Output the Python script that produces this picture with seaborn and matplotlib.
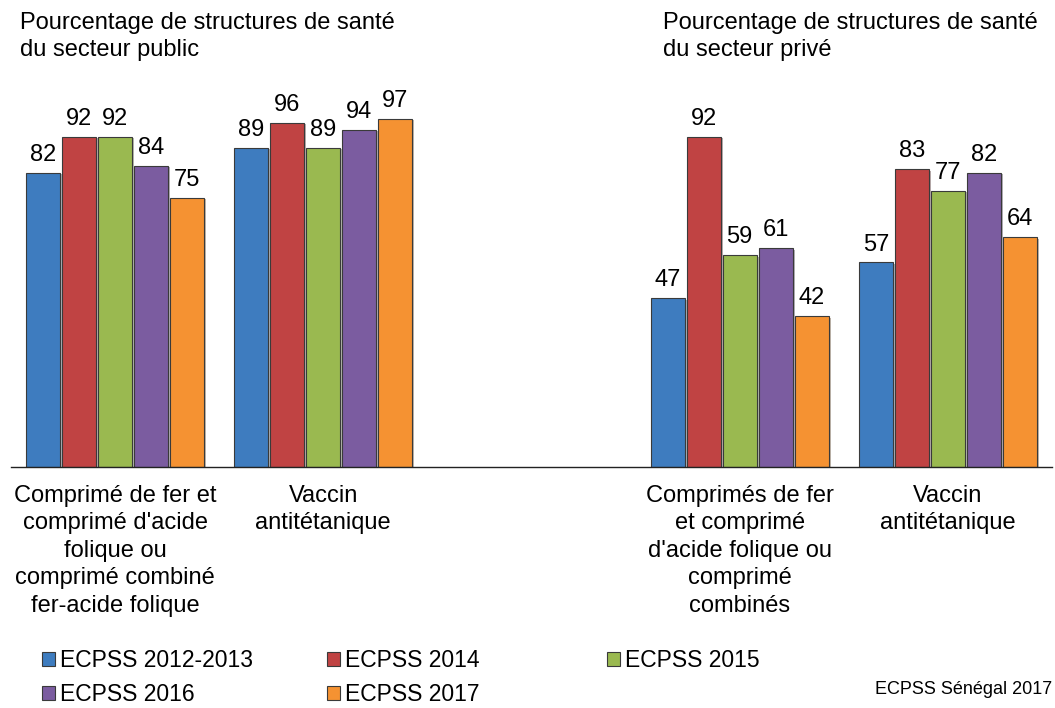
import seaborn as sns
import matplotlib.pyplot as plt
import matplotlib.patheffects as pe
import pandas as pd
from matplotlib.patches import Patch

# categories (empty slot separates public / private)
categories = ["pub_fer", "pub_vat", "", "priv_fer", "priv_vat"]
cat_labels = [
    "Comprimé de fer et\ncomprimé d'acide\nfolique ou\ncomprimé combiné\nfer-acide folique",
    "Vaccin\nantitétanique",
    "",
    "Comprimés de fer\net comprimé\nd'acide folique ou\ncomprimé\ncombinés",
    "Vaccin\nantitétanique",
]
series = ["ECPSS 2012-2013", "ECPSS 2014", "ECPSS 2015", "ECPSS 2016", "ECPSS 2017"]
colors = ["#3E7CBF", "#C04343", "#9AB950", "#7B5CA0", "#F59232"]

pub_fer = [82, 92, 92, 84, 75]
pub_vat = [89, 96, 89, 94, 97]
priv_fer = [47, 92, 59, 61, 42]
priv_vat = [57, 83, 77, 82, 64]

rows = []
for cat, vals in zip(["pub_fer", "pub_vat", "priv_fer", "priv_vat"],
                     [pub_fer, pub_vat, priv_fer, priv_vat]):
    for s, v in zip(series, vals):
        rows.append({"cat": cat, "serie": s, "val": v})
df = pd.DataFrame(rows)

sns.set_style("white")
plt.rcParams["font.family"] = ["Liberation Sans", "DejaVu Sans"]
plt.rcParams["text.color"] = "black"
plt.rcParams["xtick.color"] = "black"

FS = 17

fig = plt.figure(figsize=(10.55, 7.08), dpi=100)
ax = fig.add_axes([0.0104, 0.3404, 0.9867, 0.5068])

sns.barplot(data=df, x="cat", y="val", hue="serie", order=categories,
            hue_order=series, palette=colors, saturation=1, width=0.865, gap=0.06,
            edgecolor="#3a3a3a", linewidth=0.8, legend=False, ax=ax)

# light drop shadow like the original
for p in ax.patches:
    p.set_path_effects([pe.SimplePatchShadow(offset=(1.5, -1), alpha=0.35), pe.Normal()])

for c in ax.containers:
    ax.bar_label(c, fmt="%d", padding=5, fontsize=FS, clip_on=False)

ax.set_ylim(0, 100)
ax.set_xlim(-0.5, 4.5)
ax.set_xticks(range(5))
ax.set_xticklabels(cat_labels, fontsize=FS, linespacing=1.32)
ax.tick_params(axis="x", length=0, pad=13)
ax.set_yticks([])
ax.set_xlabel("")
ax.set_ylabel("")
for side in ["top", "left", "right"]:
    ax.spines[side].set_visible(False)
ax.spines["bottom"].set_color("#222222")
ax.spines["bottom"].set_linewidth(1.0)

fig.text(20 / 1055, 1 - 12 / 708, "Pourcentage de structures de santé\ndu secteur public",
         fontsize=FS, va="top", ha="left", linespacing=1.3)
fig.text(663 / 1055, 1 - 12 / 708, "Pourcentage de structures de santé\ndu secteur privé",
         fontsize=FS, va="top", ha="left", linespacing=1.3)

# legend: three columns placed by hand
handles = [Patch(facecolor=c, edgecolor="#3a3a3a", linewidth=0.8) for c in colors]
columns = [([0, 3], 42), ([1, 4], 327), ([2], 607)]
for idx, xpx in columns:
    fig.legend([handles[i] for i in idx], [series[i] for i in idx],
               loc="upper left", bbox_to_anchor=(xpx / 1055, 1 - 649 / 708),
               frameon=False, fontsize=16.5, handlelength=0.55, handleheight=0.55,
               handletextpad=0.25, labelspacing=0.5, borderpad=0, borderaxespad=0)

fig.text(1052 / 1055, 1 - 690 / 708, "ECPSS Sénégal 2017", fontsize=13,
         ha="right", va="center")

fig.savefig("out.png", dpi=100)
